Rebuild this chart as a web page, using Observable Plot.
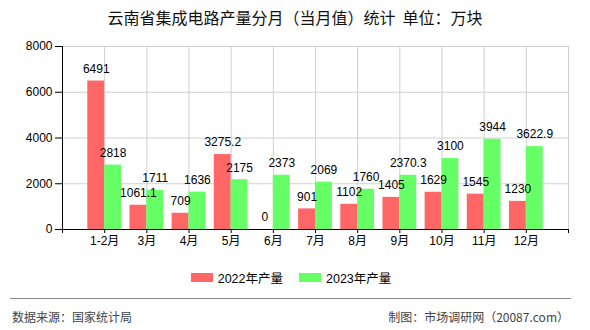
<!DOCTYPE html>
<html>
<head>
<meta charset="utf-8">
<script src="https://cdn.jsdelivr.net/npm/d3@7"></script>
<script src="https://cdn.jsdelivr.net/npm/@observablehq/plot@0.6"></script>
<style>
  body { margin: 0; background: #fff; width: 590px; height: 330px; overflow: hidden; font-family: "Liberation Sans", "Noto Sans CJK SC", sans-serif; }
  #title { height: 36px; line-height: 34px; text-align: center; font-size: 16px; color: #111; font-family: "Noto Sans CJK SC", sans-serif; }
  #legend { height: 34px; display: flex; justify-content: center; align-items: center; font-size: 12.5px; color: #000; padding-right: 8px; }
  .item { display: flex; align-items: center; margin: 0 8px; }
  .sw { width: 22px; height: 9px; margin-right: 5px; }
  #sep { margin: 4px 19px 0 10px; border-top: 1px solid #888; }
  #footer { height: 36px; line-height: 36px; font-size: 12px; color: #444; display: flex; justify-content: space-between; padding: 0 21px 0 12px; font-family: "Noto Sans CJK SC", sans-serif; }
  svg text { font-family: "Liberation Sans", "Noto Sans CJK SC", sans-serif; }
</style>
</head>
<body>
<div id="title">云南省集成电路产量分月（当月值）统计&nbsp;&nbsp;单位：万块</div>
<div id="chart"></div>
<div id="legend">
  <div class="item"><div class="sw" style="background:#FF6666"></div>2022年产量</div>
  <div class="item"><div class="sw" style="background:#66FF66"></div>2023年产量</div>
</div>
<div id="sep"></div>
<div id="footer"><span>数据来源：国家统计局</span><span>制图：市场调研网（20087.com）</span></div>
<script>
const categories = ["1-2月","3月","4月","5月","6月","7月","8月","9月","10月","11月","12月"];
const values2022 = [6491, 1061.1, 709, 3275.2, 0, 901, 1102, 1405, 1629, 1545, 1230];
const values2023 = [2818, 1711, 1636, 2175, 2373, 2069, 1760, 2370.3, 3100, 3944, 3622.9];
const yTicks = [0, 2000, 4000, 6000, 8000];

const data = categories.map((c, k) => ({i: k + 1, c, a: values2022[k], b: values2023[k]}));
const red = "#FF6666", green = "#66FF66", grid = "#d0d0d0";

const chart = Plot.plot({
  width: 590,
  height: 224,
  marginTop: 10,
  marginBottom: 31,
  marginLeft: 62,
  marginRight: 22,
  style: {color: "#000", fontSize: "12px", background: "transparent"},
  x: {domain: [0, 12]},
  y: {domain: [0, 8000]},
  marks: [
    Plot.gridY(yTicks.slice(1), {stroke: grid, strokeOpacity: 1}),
    Plot.gridX(d3.range(1, 13), {stroke: grid, strokeOpacity: 1}),
    Plot.rectY(data, {x1: d => d.i - 0.4, x2: d => d.i, y: "a", fill: red}),
    Plot.rectY(data, {x1: d => d.i, x2: d => d.i + 0.4, y: "b", fill: green}),
    Plot.text(data, {x: d => d.i - 0.2, y: "a", text: d => String(d.a), dy: -12, fill: "#000", fontSize: 12}),
    Plot.text(data, {x: d => d.i + 0.2, y: "b", text: d => String(d.b), dy: -12, fill: "#000", fontSize: 12}),
    Plot.axisX({ticks: d3.range(0, 13), tickFormat: t => categories[t - 1] ?? "", tickSize: 4, tickPadding: 3, fontSize: 12, label: null}),
    Plot.axisY({ticks: yTicks, tickFormat: d => String(d), tickSize: 7, tickPadding: 3, fontSize: 12, label: null}),
    Plot.ruleY([0], {stroke: "#000"}),
    Plot.ruleX([0], {stroke: "#000"})
  ]
});
document.getElementById("chart").appendChild(chart);
</script>
</body>
</html>
